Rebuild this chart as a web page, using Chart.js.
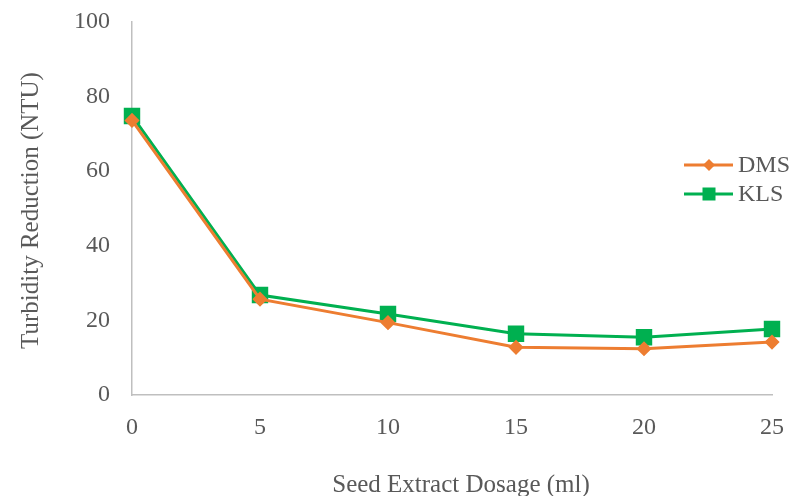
<!DOCTYPE html>
<html><head><meta charset="utf-8">
<script src="https://cdn.jsdelivr.net/npm/chart.js@4.4.0/dist/chart.umd.min.js"></script>
<style>html,body{margin:0;padding:0;background:#fff}#wrap{width:793px;height:496px}</style>
</head><body><div id="wrap"><canvas id="c" width="793" height="496"></canvas></div>
<script>
const categories = ['0','5','10','15','20','25'];
const dmsValues = [73.6, 25.7, 19.4, 12.8, 12.4, 14.2];
const klsValues = [74.8, 26.8, 21.7, 16.4, 15.5, 17.7];
const seriesNames = ['DMS','KLS'];
const yTicks = [0,20,40,60,80,100];

const FONT = "'Liberation Serif', 'Times New Roman', serif";
const GRAY = '#595959';

const legendPlugin = {
  id: 'lineLegend',
  beforeDraw(chart) {
    // shift axis titles slightly, as in the reference
    const sx = chart.scales.x, sy = chart.scales.y;
    if (!sx._titleShifted) {
      const ox = sx.drawTitle;
      sx.drawTitle = function () { const l = this.left, r = this.right; this.left += 9; this.right += 9; ox.call(this); this.left = l; this.right = r; };
      sx._titleShifted = true;
    }
    if (!sy._titleShifted) {
      const oy = sy.drawTitle;
      sy.drawTitle = function () { const t = this.top, b = this.bottom; this.top += 2; this.bottom += 2; oy.call(this); this.top = t; this.bottom = b; };
      sy._titleShifted = true;
    }
  },
  afterDraw(chart) {
    const ctx = chart.ctx;
    const x0 = 684, ys = [165, 194];
    chart.data.datasets.forEach((ds, i) => {
      const y = ys[i];
      ctx.save();
      ctx.strokeStyle = ds.borderColor;
      ctx.lineWidth = 3;
      ctx.beginPath(); ctx.moveTo(x0, y); ctx.lineTo(x0 + 49, y); ctx.stroke();
      ctx.fillStyle = ds.backgroundColor;
      const cx = x0 + 25;
      if (ds.pointStyle === 'rectRot') {
        ctx.beginPath(); ctx.moveTo(cx, y - 6); ctx.lineTo(cx + 6, y); ctx.lineTo(cx, y + 6); ctx.lineTo(cx - 6, y); ctx.closePath(); ctx.fill();
      } else {
        ctx.fillRect(cx - 6.5, y - 6.5, 13, 13);
      }
      ctx.fillStyle = GRAY;
      ctx.font = "24px " + FONT;
      ctx.textBaseline = 'middle';
      ctx.fillText(ds.label, x0 + 54, y + 1);
      ctx.restore();
    });
  }
};

new Chart(document.getElementById('c'), {
  type: 'line',
  data: {
    labels: categories,
    datasets: [
      { label: seriesNames[0], data: dmsValues, borderColor: '#ED7D31', backgroundColor: '#ED7D31',
        borderWidth: 3, pointStyle: 'rectRot', pointRadius: 5.5, pointHoverRadius: 5.5, tension: 0 },
      { label: seriesNames[1], data: klsValues, borderColor: '#00B050', backgroundColor: '#00B050',
        borderWidth: 3, pointStyle: 'rect', pointRadius: 9.5, pointHoverRadius: 9.5, tension: 0 }
    ]
  },
  options: {
    responsive: false,
    animation: false,
    devicePixelRatio: 1,
    layout: { padding: { left: 0, right: 21, top: 22, bottom: 0 } },
    plugins: { legend: { display: false }, tooltip: { enabled: false } },
    scales: {
      x: {
        offset: false,
        afterFit(scale) { scale.height = 101; scale.paddingLeft = 0; scale.paddingRight = 0; },
        grid: { display: false, drawTicks: false },
        border: { display: true, color: '#BFBFBF', width: 1.5 },
        ticks: { color: GRAY, font: { family: FONT, size: 24 }, padding: 18, maxRotation: 0 },
        title: { display: true, text: 'Seed Extract Dosage (ml)', color: GRAY, font: { family: FONT, size: 25, lineHeight: 0.84 }, padding: { top: 0, bottom: 0 } }
      },
      y: {
        min: 0, max: 100,
        afterFit(scale) { scale.width = 132; scale.paddingTop = 0; scale.paddingBottom = 0; },
        afterBuildTicks(axis) { axis.ticks = yTicks.map(v => ({ value: v })); },
        grid: { display: false, drawTicks: false },
        border: { display: true, color: '#BFBFBF', width: 1.5 },
        ticks: { color: GRAY, font: { family: FONT, size: 24 }, padding: 22 },
        title: { display: true, text: 'Turbidity Reduction (NTU)', color: GRAY, font: { family: FONT, size: 25, lineHeight: 1 }, padding: { top: 19, bottom: 0 } }
      }
    }
  },
  plugins: [legendPlugin]
});
</script></body></html>
